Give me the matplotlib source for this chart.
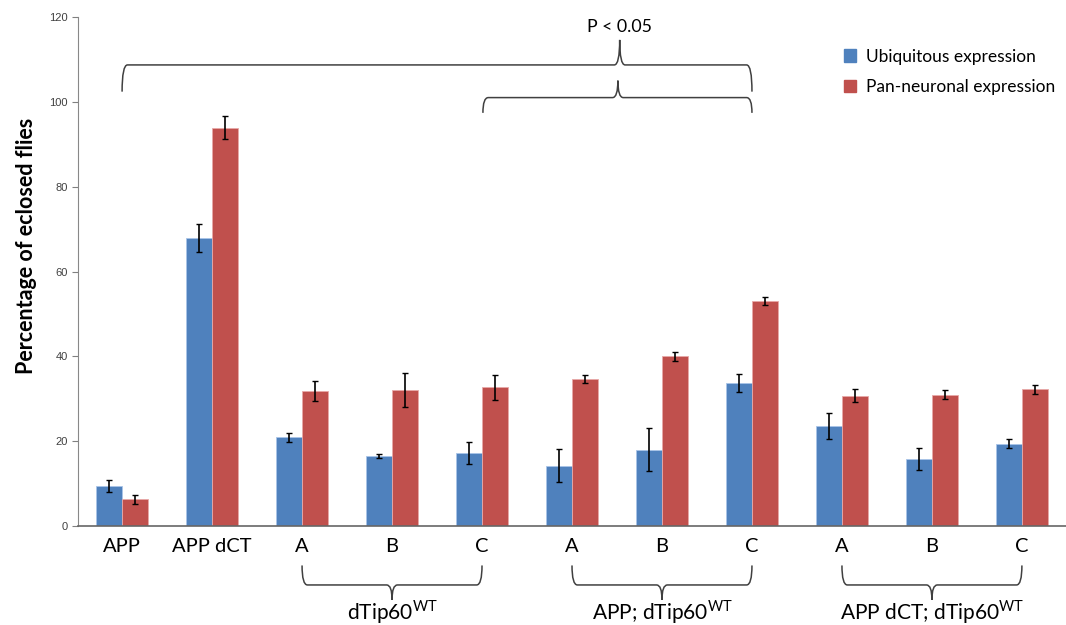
import matplotlib
matplotlib.use('Agg')
import matplotlib.pyplot as plt
from matplotlib.path import Path
from matplotlib.patches import PathPatch, Patch
import numpy as np

plt.rcParams['font.family'] = ['Lato', 'DejaVu Sans']

# Daten
categories = ['APP', 'APP dCT', 'A', 'B', 'C', 'A', 'B', 'C', 'A', 'B', 'C']
ubiquitous = [9.4, 67.9, 20.9, 16.5, 17.2, 14.2, 18.0, 33.7, 23.6, 15.8, 19.4]
ubiquitous_err = [1.5, 3.4, 1.0, 0.5, 2.6, 3.9, 5.0, 2.2, 3.1, 2.5, 1.0]
panneuronal = [6.3, 93.9, 31.9, 32.1, 32.7, 34.7, 40.0, 53.1, 30.7, 31.0, 32.2]
panneuronal_err = [1.1, 2.7, 2.4, 4.0, 3.0, 1.0, 1.1, 1.0, 1.5, 1.0, 1.0]
series_names = ['Ubiquitous expression', 'Pan-neuronal expression']
group_labels = [r'dTip60$^{\mathregular{WT}}$', r'APP; dTip60$^{\mathregular{WT}}$',
                r'APP dCT; dTip60$^{\mathregular{WT}}$']
group_spans = [(2, 4), (5, 7), (8, 10)]

blue = '#4F81BD'
red = '#C0504D'


def brace(ax, x0, x1, xtip, y_line, y_end, y_tip, clip=True):
    # geschweifte Klammer aus Bezier-Kurven
    rx = 0.06
    verts = [(x0, y_end), (x0, y_line), (x0 + rx, y_line),
             (xtip - rx, y_line), (xtip, y_line), (xtip, y_tip),
             (xtip, y_line), (xtip + rx, y_line),
             (x1 - rx, y_line), (x1, y_line), (x1, y_end)]
    codes = [Path.MOVETO, Path.CURVE3, Path.CURVE3,
             Path.LINETO, Path.CURVE3, Path.CURVE3,
             Path.CURVE3, Path.CURVE3,
             Path.LINETO, Path.CURVE3, Path.CURVE3]
    p = PathPatch(Path(verts, codes), fill=False, ec='#404040', lw=1.1, clip_on=clip)
    ax.add_patch(p)


fig = plt.figure(figsize=(10.66, 6.25), dpi=100)
ax = fig.add_axes([78 / 1066, 99 / 625, 1 - 78 / 1066, 509 / 625])

x = np.arange(len(categories))
w = 0.29
ax.bar(x - w / 2, ubiquitous, w, color=blue, edgecolor='#A9C4E8', lw=0.6,
       yerr=ubiquitous_err, capsize=2.2, error_kw=dict(ecolor='black', elinewidth=1.2, capthick=1))
ax.bar(x + w / 2, panneuronal, w, color=red, edgecolor='#E8A9A8', lw=0.6,
       yerr=panneuronal_err, capsize=2.2, error_kw=dict(ecolor='black', elinewidth=1.2, capthick=1))

ax.set_xlim(-0.49, 10.49)
ax.set_ylim(0, 120)
ax.set_yticks(np.arange(0, 121, 20))
ax.tick_params(axis='y', labelsize=8, colors='#808080', labelcolor='#404040', length=4, width=0.8)
for t in ax.get_yticklabels():
    t.set_family('Liberation Sans')
ax.tick_params(axis='x', length=0, labelsize=14.5, pad=9)
ax.set_xticks(x)
ax.set_xticklabels(categories, color='black')
for s in ['top', 'right']:
    ax.spines[s].set_visible(False)
ax.spines['left'].set_color('#888888')
ax.spines['bottom'].set_color('#666666')
ax.spines['bottom'].set_linewidth(1.2)
ax.set_ylabel('Percentage of eclosed flies', fontsize=15.5, fontweight='bold')
ax.yaxis.set_label_coords(-0.042, 0.55)

# Signifikanzklammern oben
brace(ax, 0, 7, 5.53, 108.7, 102.4, 114.6)
brace(ax, 4.01, 7, 5.51, 101.0, 97.4, 105.0)
ax.text(5.53, 117.6, 'P < 0.05', ha='center', va='center', fontsize=12.8)

# Gruppenklammern unten
for (a, b), lab in zip(group_spans, group_labels):
    brace(ax, a, b, (a + b) / 2, -13.9, -9.3, -17.4, clip=False)
    ax.text((a + b) / 2, -20.4, lab, ha='center', va='center', fontsize=15)

handles = [Patch(color=blue), Patch(color=red)]
fig.legend(handles, series_names, loc='upper left', bbox_to_anchor=(828 / 1066, 1 - 33 / 625),
           frameon=False, fontsize=12.5, handlelength=0.7, handleheight=0.7,
           labelspacing=0.85, handletextpad=0.6)

fig.savefig('out.png', dpi=100)
